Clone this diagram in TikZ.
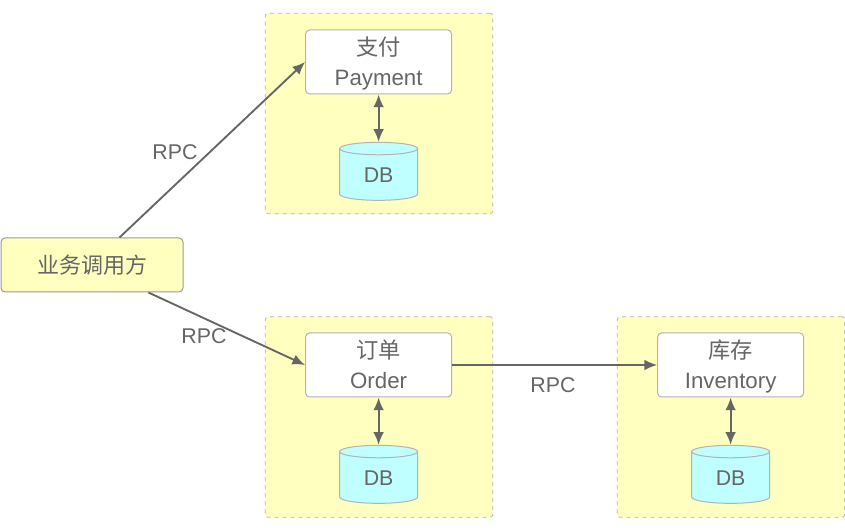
\documentclass[tikz,border=0pt]{standalone}
\usepackage{fontspec}
\setmainfont{Liberation Sans}
\newfontfamily\cjk{Noto Sans CJK SC}
\usepackage{xcolor}
\usetikzlibrary{positioning}
\usetikzlibrary{shapes.geometric,arrows.meta}
\definecolor{ink}{HTML}{666666}
\definecolor{edge}{HTML}{B3B3B3}
\definecolor{paleyellow}{HTML}{FFFFC0}
\definecolor{palecyan}{HTML}{C0FFFF}
\newcommand{\upstrut}{\rule{0pt}{19.4pt}}

\begin{document}
\begin{tikzpicture}[
      x=.75pt, y=-.75pt,
      every node/.style={text=ink, font=\fontsize{16}{22}\selectfont},
      type-group/.style={rectangle, rounded corners=2pt, draw=edge, dashed, fill=paleyellow, line width=.6pt, minimum width=170.5pt, minimum height=150.5pt},
      type-service/.style={rectangle, rounded corners=3pt, draw=edge, fill=white, line width=.75pt, align=center, minimum width=109.5pt, minimum height=48pt, inner sep=0pt, font=\fontsize{16.7}{22}\selectfont},
      type-caller/.style={rectangle, rounded corners=3pt, draw=black!40, fill=paleyellow, line width=.75pt, minimum width=136.5pt, minimum height=40.5pt, font=\fontsize{16.5}{22}\selectfont},
      type-db/.style={cylinder, shape border rotate=90, aspect=.42, draw=edge, fill=palecyan, line width=.75pt, minimum width=58.5pt, minimum height=43.5pt, inner sep=0pt},
      type-call/.style={-{Latex[length=9.5pt,width=8pt]}, draw=ink, line width=1.4pt},
      type-link/.style={{Latex[length=9.5pt,width=8pt]}-{Latex[length=9.5pt,width=8pt]}, draw=ink, line width=1.4pt}
    ]
      \useasboundingbox (0,0) rectangle (845,530);
      % groups
      \node[type-group] (payment-group) at (379,113.5) {};
      \node[type-group] (order-group) at (379,417) {};
      \node[type-group] (inventory-group) at (731,417) {};
      % services
      \node[type-service] (payment) at (378.6,62) {\upstrut{\cjk 支付}\\\strut Payment};
      \node[type-service] (order) at (378.6,365) {\upstrut{\cjk 订单}\\\strut Order};
      \node[type-service] (inventory) at (730.6,365) {\upstrut{\cjk 库存}\\\strut Inventory};
      % databases
      \node[type-db, below=35.5pt of payment] (payment-db) {DB};
      \node[type-db, below=35.5pt of order] (order-db) {DB};
      \node[type-db, below=35.5pt of inventory] (inventory-db) {DB};
      \node[type-caller] (caller) at (92,265) {\cjk 业务调用方};
      % calls
      \draw[type-call] (caller.45) -- (payment.west);
      \draw[type-call] (caller.-26) -- (order.west);
      \draw[type-call] (order.east) -- (inventory.west);
      \draw[type-link] (payment) -- (payment-db);
      \draw[type-link] (order) -- (order-db);
      \draw[type-link] (inventory) -- (inventory-db);
      \node (rpc-payment) at (175,152) {RPC};
      \node (rpc-order) at (204,336) {RPC};
      \node (rpc-inventory) at (553,385) {RPC};
    \end{tikzpicture}
\end{document}
